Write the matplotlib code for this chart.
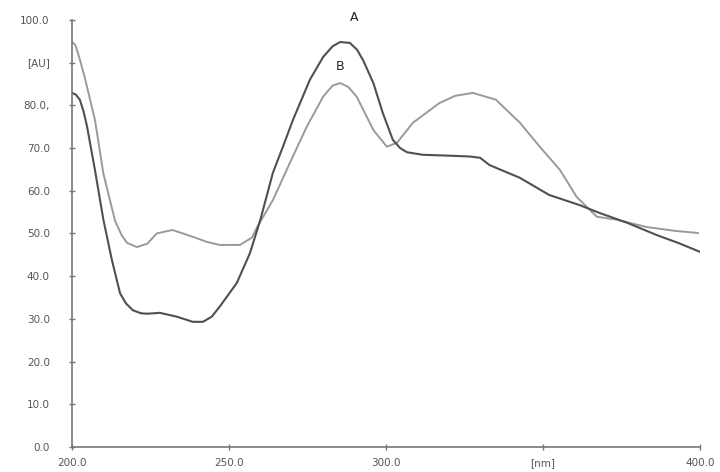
import matplotlib
matplotlib.use("Agg")
import matplotlib.pyplot as plt

# curve A (darker)
wl_a = [200, 201.2, 202.5, 203.7, 204.8, 207.3, 210, 212.7, 215.3, 217.2, 219.4, 222,
        224, 228, 233.4, 238.5, 241.7, 244.5, 247, 252.5, 256.7, 260, 264, 267.2,
        270.4, 275.8, 280, 283, 285.4, 288.5, 290.8, 292.7, 296, 299, 302.2, 304.5,
        306.7, 311.8, 320, 326.8, 330, 333, 342.7, 352, 361.8, 368, 376.8, 386.3,
        393, 400]
ab_a = [82.9, 82.5, 81.3, 78.5, 75, 64.9, 53.2, 43.8, 36, 33.6, 32, 31.3,
        31.2, 31.4, 30.5, 29.3, 29.3, 30.5, 32.8, 38.4, 45.4, 53.2, 64.2, 70.3,
        76.6, 86, 91.3, 93.8, 94.8, 94.6, 93, 90.6, 85.2, 78.2, 71.9, 70,
        69, 68.4, 68.2, 68, 67.7, 66, 63, 59, 56.6, 54.8, 52.5, 49.6,
        47.8, 45.7]

# curve B (lighter)
wl_b = [200, 201, 202, 204, 207.3, 210, 213.7, 215.8, 217.5, 220.7, 224, 227,
        232, 238.5, 243, 247, 253.5, 257.3, 259, 264, 269.4, 274.8, 280, 283,
        285.4, 288, 290.7, 296, 300.3, 303.5, 308.6, 317, 322, 327.7, 335, 342.7,
        349, 355.4, 360.8, 364, 367.2, 373.6, 383, 392, 399.4]
ab_b = [94.8, 94.2, 92, 86.7, 76.6, 64, 53, 49.6, 47.8, 46.8, 47.6, 50,
        50.8, 49.2, 48, 47.3, 47.3, 49, 51.5, 57.8, 66.5, 75, 82, 84.6,
        85.2, 84.3, 82, 74.2, 70.3, 71.2, 75.9, 80.5, 82.2, 82.9, 81.3, 75.9,
        70.3, 64.9, 58.5, 56.2, 53.9, 53.2, 51.5, 50.6, 50.1]

yticks = [0, 10, 20, 30, 40, 50, 60, 70, 80, 90, 100]
ylabels = ["0.0", "10.0", "20.0", "30.0", "40.0", "50.0", "60.0", "70.0", "80.0,", "[AU]", "100.0"]
xticks = [200, 250, 300, 350, 400]
xlabels = ["200.0", "250.0", "300.0", "[nm]", "400.0"]

fig = plt.figure(figsize=(7.2, 4.72), dpi=100)
ax = fig.add_axes([0.1, 0.053, 0.872, 0.905])

ax.plot(wl_b, ab_b, color="#9a9a9a", lw=1.4)
ax.plot(wl_a, ab_a, color="#505050", lw=1.5)

ax.set_xlim(200, 400)
ax.set_ylim(0, 100)
ax.set_xticks(xticks)
ax.set_xticklabels(xlabels)
ax.set_yticks(yticks)
ax.set_yticklabels(ylabels)

for s in ["top", "right"]:
    ax.spines[s].set_visible(False)
for s in ["left", "bottom"]:
    ax.spines[s].set_color("#777777")
    ax.spines[s].set_linewidth(1.2)

ax.tick_params(direction="inout", length=4, width=1, color="#777777",
               labelsize=7.5, labelcolor="#555555")
ax.tick_params(axis="y", pad=14)
ax.tick_params(axis="x", pad=6)

ax.text(290, 100.5, "A", fontsize=9, color="#222222", ha="center", va="center")
ax.text(285.4, 89, "B", fontsize=9, color="#222222", ha="center", va="center")

fig.savefig("out.png", dpi=100)
